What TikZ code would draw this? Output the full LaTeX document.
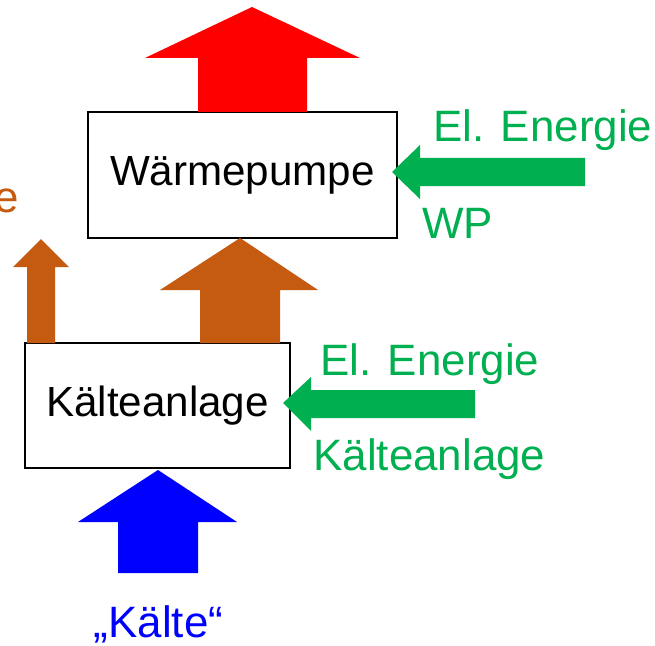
\documentclass[tikz,border=0pt]{standalone}
\usepackage{fontspec}
\setmainfont{Liberation Sans}
\usetikzlibrary{positioning}
\definecolor{Hot}{HTML}{FF0000}
\definecolor{Waste}{HTML}{C55A11}
\definecolor{Power}{HTML}{00B050}
\definecolor{Cold}{HTML}{0000FF}

\begin{document}
\begin{tikzpicture}[x=0.02cm,y=-0.02cm,
  unit/.style={draw=black,line width=0.8pt,fill=white,font=\fontsize{24}{28}\selectfont},
  tag/.style={inner sep=0pt,font=\fontsize{25}{30}\selectfont}
]
\useasboundingbox (0,0) rectangle (655,645);

% the two machines
\node[unit,minimum width=6.18cm,minimum height=2.52cm] (wp) at (242.5,175) {Wärmepumpe};
\node[unit,minimum width=5.30cm,minimum height=2.50cm] (ka) at (157.5,405.5) {Kälteanlage};

% heat leaving the heat pump
\fill[Hot] (198,112) -- (198,58) -- (145,58) -- (252,7) -- (360,58) -- (307,58) -- (307,112) -- cycle;

% waste heat of the chiller: to the heat pump and to the side
\fill[Waste] (200,343) -- (200,290) -- (160,290) -- (240,238) -- (318,290) -- (280,290) -- (280,343) -- cycle;
\fill[Waste] (27,343) -- (27,267) -- (13,267) -- (41,239) -- (69,267) -- (55,267) -- (55,343) -- cycle;
\node[tag,text=Waste,anchor=base east] (abw) at (19,213) {e};

% electric drive
\fill[Power] (585,158) -- (420,158) -- (420,145) -- (392,172) -- (420,199) -- (420,186) -- (585,186) -- cycle;
\fill[Power] (475,390) -- (311,390) -- (311,377) -- (283,403) -- (311,431) -- (311,418) -- (475,418) -- cycle;
\node[tag,text=Power,anchor=base west] (elwp) at (433,142) {El. Energie};
\node[tag,text=Power,anchor=base west] (wpname) at (422,238) {WP};
\node[tag,text=Power,anchor=base west] (elka) at (320,375) {El. Energie};
\node[tag,text=Power,anchor=base west] (kaname) at (313,470) {Kälteanlage};

% cold drawn from below
\fill[Cold] (118,573) -- (118,522) -- (78,522) -- (158,470) -- (237,522) -- (198,522) -- (198,573) -- cycle;
\node[tag,text=Cold,anchor=base] (kalt) at (158.5,637) {„Kälte“};
\end{tikzpicture}
\end{document}
